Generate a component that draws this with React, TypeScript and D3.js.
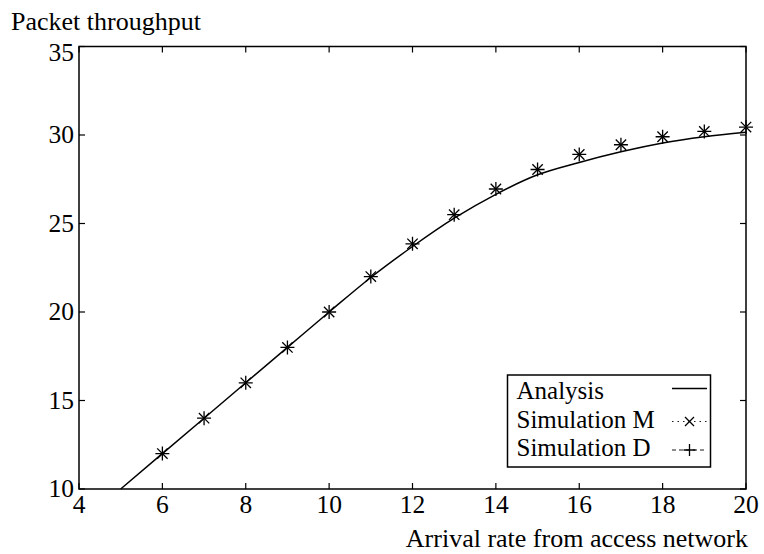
import React from "react";
import * as d3 from "d3";

const xTicks = [4, 6, 8, 10, 12, 14, 16, 18, 20];
const yTicks = [10, 15, 20, 25, 30, 35];

const analysisX = [5, 6, 7, 8, 9, 10, 11, 12, 13, 14, 15, 16, 17, 18, 19, 20];
const analysisY = [10.0, 12.0, 14.0, 16.0, 18.0, 20.0, 21.95, 23.7, 25.3, 26.65, 27.75, 28.45, 29.05, 29.55, 29.9, 30.15];

const simX = [6, 7, 8, 9, 10, 11, 12, 13, 14, 15, 16, 17, 18, 19, 20];
const simMY = [12.0, 14.0, 16.0, 18.0, 20.0, 22.0, 23.85, 25.5, 26.95, 28.05, 28.9, 29.45, 29.9, 30.2, 30.45];
const simDY = [12.0, 14.0, 16.0, 18.0, 20.0, 22.0, 23.85, 25.5, 26.95, 28.05, 28.9, 29.45, 29.9, 30.2, 30.45];

const legendLabels = ["Analysis", "Simulation M", "Simulation D"];

const W = 764;
const H = 554;
const L = 79, R = 746, T = 46.5, B = 489;
const FONT = "'Liberation Serif', 'Times New Roman', serif";
const FS = 25.5;

function XMark({ cx, cy, s }: { cx: number; cy: number; s: number }) {
  return (
    <path d={`M${cx - s},${cy - s}L${cx + s},${cy + s}M${cx - s},${cy + s}L${cx + s},${cy - s}`} stroke="#000" strokeWidth={1.3} fill="none" />
  );
}
function PMark({ cx, cy, s }: { cx: number; cy: number; s: number }) {
  return (
    <path d={`M${cx - s},${cy}L${cx + s},${cy}M${cx},${cy - s}L${cx},${cy + s}`} stroke="#000" strokeWidth={1.3} fill="none" />
  );
}

export default function App() {
  const x = d3.scaleLinear().domain([4, 20]).range([L, R]);
  const y = d3.scaleLinear().domain([10, 35]).range([B, T]);
  const line = d3
    .line<number>()
    .x((_, i) => x(analysisX[i]))
    .y((d) => y(d))
    .curve(d3.curveMonotoneX);

  const tickLen = 6;
  const legX = 507.5, legY = 375, legW = 203, legH = 92;
  const rowBase = [399, 427.5, 456];
  const sx1 = 672, sx2 = 707, smid = 689.5;

  return (
    <svg width={W} height={H} style={{ position: "fixed", left: 0, top: 0, background: "#fff" }} fontFamily={FONT} fontSize={FS}>
      <rect x={0} y={0} width={W} height={H} fill="#fff" />
      <text x={11} y={29.5} fontSize={26}>Packet throughput</text>
      {/* analysis line */}
      <path d={line(analysisY) || ""} fill="none" stroke="#000" strokeWidth={1.5} />
      {/* markers */}
      {simX.map((v, i) => (
        <XMark key={"m" + i} cx={x(v)} cy={y(simMY[i])} s={5.2} />
      ))}
      {simX.map((v, i) => (
        <PMark key={"d" + i} cx={x(v)} cy={y(simDY[i])} s={7} />
      ))}
      {/* frame */}
      <rect x={L} y={T} width={R - L} height={B - T} fill="none" stroke="#000" strokeWidth={1.5} />
      {xTicks.map((t) => (
        <g key={"xt" + t}>
          <line x1={x(t)} x2={x(t)} y1={B} y2={B - tickLen} stroke="#000" strokeWidth={1.2} />
          <line x1={x(t)} x2={x(t)} y1={T} y2={T + tickLen} stroke="#000" strokeWidth={1.2} />
          <text x={x(t)} y={513} textAnchor="middle">{t}</text>
        </g>
      ))}
      {yTicks.map((t) => (
        <g key={"yt" + t}>
          <line x1={L} x2={L + tickLen} y1={y(t)} y2={y(t)} stroke="#000" strokeWidth={1.2} />
          <line x1={R} x2={R - tickLen} y1={y(t)} y2={y(t)} stroke="#000" strokeWidth={1.2} />
          <text x={74} y={Math.max(y(t), T + 6.5)} dy="0.33em" textAnchor="end">{t}</text>
        </g>
      ))}
      <text x={748} y={547} textAnchor="end" fontSize={26}>Arrival rate from access network</text>
      {/* legend */}
      <rect x={legX} y={legY} width={legW} height={legH} fill="#fff" stroke="#000" strokeWidth={1.5} />
      {legendLabels.map((lab, i) => (
        <text key={lab} x={516.5} y={rowBase[i]} fontSize={25}>{lab}</text>
      ))}
      <line x1={sx1} x2={sx2} y1={388.5} y2={388.5} stroke="#000" strokeWidth={1.5} />
      <line x1={sx1} x2={sx2} y1={421.5} y2={421.5} stroke="#000" strokeWidth={0.9} strokeDasharray="1.5,4" />
      <XMark cx={smid} cy={421.5} s={4.5} />
      <line x1={sx1} x2={sx2} y1={450} y2={450} stroke="#000" strokeWidth={0.9} strokeDasharray="4,3" />
      <PMark cx={smid} cy={450} s={6} />
    </svg>
  );
}
